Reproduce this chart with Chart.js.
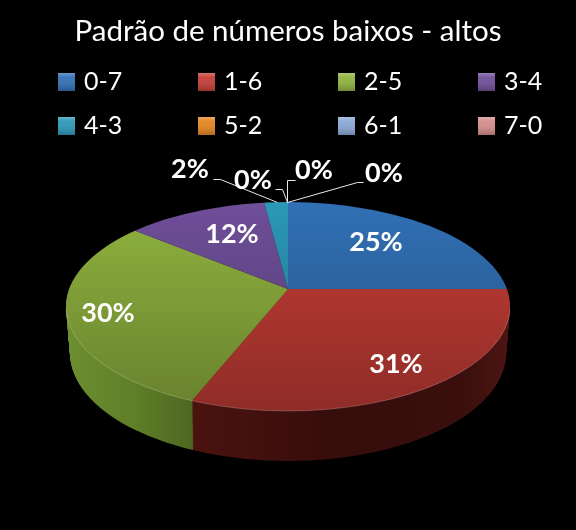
<!DOCTYPE html>
<html lang="pt">

<head>
    <meta charset="UTF-8">
    <title>Padrão de números baixos - altos</title>
    <script src="https://cdn.jsdelivr.net/npm/chart.js"></script>
    <style>
        html, body {
            margin: 0;
            padding: 0;
            background: #000;
        }

        canvas {
            display: block;
        }
    </style>
</head>

<body>
    <canvas id="grafico" width="576" height="530"></canvas>

    <script>
        const titulo = 'Padrão de números baixos - altos';
        const categorias = ['0-7', '1-6', '2-5', '3-4', '4-3', '5-2', '6-1', '7-0'];
        const valores = [25, 31, 30, 12, 2, 0, 0, 0];
        const cores = ['#3170b5', '#c63d36', '#90b33f', '#6f4f99', '#2b98b8', '#e5851f', '#8aa8d6', '#d58d8c'];

        // where the percent labels sit, with the elbow lines of the small slices
        const posRotulos = [[376, 242], [396, 364], [108, 313], [232, 234], [190, 169], [253, 180], [314, 170], [384, 173]];
        const linhas = [
            [[213, 179], [220, 179], [277, 202]],
            [[275, 189], [282, 189], [287, 202]],
            [[295, 180], [287, 180], [287, 202]],
            [[363, 182], [357, 182], [287, 202]]
        ];

        // pie in perspective: the slices meet above the middle of the ellipse
        const vertice = { x: 288, y: 289 };
        const topo = { cy: 306.5, rx: 222, ry: 104.5 };
        const base = { cy: 353, rx: 218, ry: 108 };
        const achatamento = 0.46;
        const profundidade = 50;

        function elipse(ctx, cy, rx, ry) {
            ctx.beginPath();
            ctx.ellipse(vertice.x, cy, rx, ry, 0, 0, Math.PI * 2);
        }

        function corLateral(ctx, i) {
            const g = ctx.createLinearGradient(66, 0, 510, 0);
            if (i === 2) {
                g.addColorStop(0, '#6d8f2f');
                g.addColorStop(0.15, '#5f7f28');
                g.addColorStop(0.29, '#4e6620');
                g.addColorStop(1, '#4e6620');
            } else if (i === 1) {
                g.addColorStop(0, '#5e1813');
                g.addColorStop(0.6, '#360d0b');
                g.addColorStop(0.9, '#3a0f0d');
                g.addColorStop(1, '#4e1512');
            } else {
                g.addColorStop(0, '#222');
                g.addColorStop(1, '#222');
            }
            return g;
        }

        const pizza3d = {
            id: 'pizza3d',
            beforeDatasetsDraw(chart) {
                const ctx = chart.ctx;
                const arcos = chart.getDatasetMeta(0).data;

                // side wall: the same wedges repeated from the base up to the top face
                for (let d = profundidade; d > 0; d--) {
                    const t = d / profundidade;
                    ctx.save();
                    elipse(ctx, topo.cy + (base.cy - topo.cy) * t, topo.rx + (base.rx - topo.rx) * t, topo.ry + (base.ry - topo.ry) * t);
                    ctx.clip();
                    arcos.forEach((arco, i) => {
                        if (arco.circumference <= 0) return;
                        ctx.save();
                        ctx.translate(vertice.x, vertice.y + d);
                        ctx.scale(1, achatamento);
                        ctx.beginPath();
                        ctx.moveTo(0, 0);
                        ctx.arc(0, 0, 320, arco.startAngle, arco.endAngle);
                        ctx.closePath();
                        ctx.restore();
                        ctx.fillStyle = corLateral(ctx, i);
                        ctx.fill();
                    });
                    ctx.restore();
                }

                // top face
                ctx.save();
                elipse(ctx, topo.cy, topo.rx, topo.ry);
                ctx.clip();
                arcos.forEach(arco => {
                    if (arco.circumference <= 0) return;
                    const k = 320 / arco.outerRadius;
                    ctx.save();
                    ctx.translate(vertice.x, vertice.y);
                    ctx.scale(k, k * achatamento);
                    ctx.translate(-arco.x, -arco.y);
                    arco.draw(ctx);
                    ctx.restore();
                });
                const sombra = ctx.createLinearGradient(0, 202, 0, 411);
                sombra.addColorStop(0, 'rgba(0,0,0,0)');
                sombra.addColorStop(1, 'rgba(0,0,0,0.28)');
                ctx.fillStyle = sombra;
                ctx.fillRect(0, 190, 576, 230);
                ctx.restore();

                // thin light rim along the front edge
                ctx.save();
                ctx.beginPath();
                ctx.ellipse(vertice.x, topo.cy, topo.rx, topo.ry, 0, 0.02, Math.PI - 0.02);
                ctx.strokeStyle = 'rgba(255,255,255,0.2)';
                ctx.lineWidth = 1;
                ctx.stroke();
                ctx.restore();

                return false;
            },
            afterDraw(chart) {
                const ctx = chart.ctx;
                ctx.save();

                // legend
                ctx.font = '25px Lato';
                ctx.textAlign = 'left';
                ctx.textBaseline = 'middle';
                categorias.forEach((nome, i) => {
                    const x = 58 + (i % 4) * 140;
                    const y = 82 + Math.floor(i / 4) * 44;
                    const g = ctx.createLinearGradient(0, y - 9, 0, y + 9);
                    g.addColorStop(0, 'rgba(255,255,255,0.28)');
                    g.addColorStop(0.25, 'rgba(255,255,255,0.05)');
                    g.addColorStop(1, 'rgba(0,0,0,0.22)');
                    ctx.fillStyle = cores[i];
                    ctx.fillRect(x, y - 9, 17, 18);
                    ctx.fillStyle = g;
                    ctx.fillRect(x, y - 9, 17, 18);
                    ctx.fillStyle = '#fff';
                    ctx.fillText(nome, x + 26, y);
                });

                // elbow lines
                ctx.strokeStyle = '#e8e8e8';
                ctx.lineWidth = 1;
                linhas.forEach(l => {
                    ctx.beginPath();
                    l.forEach((p, i) => i ? ctx.lineTo(p[0] + 0.5, p[1] + 0.5) : ctx.moveTo(p[0] + 0.5, p[1] + 0.5));
                    ctx.stroke();
                });

                // percent labels
                const total = valores.reduce((a, b) => a + b, 0);
                ctx.font = 'bold 27px Lato';
                ctx.textAlign = 'center';
                ctx.fillStyle = '#fff';
                valores.forEach((v, i) => {
                    ctx.fillText(Math.round(v / total * 100) + '%', posRotulos[i][0], posRotulos[i][1]);
                });
                ctx.restore();
            }
        };

        new Chart(document.getElementById('grafico'), {
            type: 'pie',
            data: {
                labels: categorias,
                datasets: [{
                    data: valores,
                    backgroundColor: cores,
                    borderWidth: 0
                }]
            },
            options: {
                responsive: false,
                animation: false,
                plugins: {
                    legend: { display: false },
                    tooltip: { enabled: false },
                    title: {
                        display: true,
                        text: titulo,
                        color: '#fff',
                        font: { family: 'Lato', size: 29.5, weight: 'normal' },
                        padding: { top: 14, bottom: 10 }
                    }
                }
            },
            plugins: [pizza3d]
        });
    </script>
</body>

</html>
